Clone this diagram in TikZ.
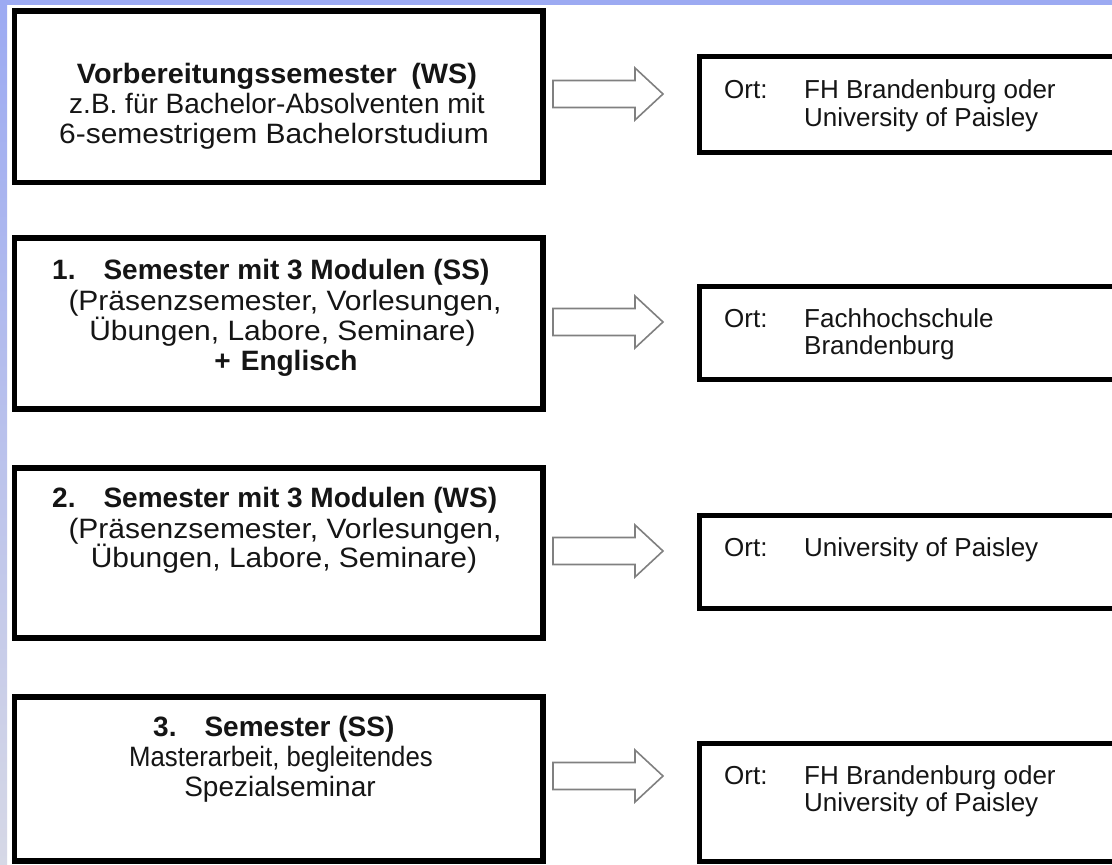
\documentclass[tikz,border=0pt]{standalone}
\usepackage{fontspec}
\usepackage{graphicx}
\setmainfont{Liberation Sans}
\definecolor{stripA}{HTML}{9CAAF2}
\definecolor{stripB}{HTML}{D6D8E6}
\definecolor{txt}{HTML}{151515}
\definecolor{arrgray}{HTML}{808080}
\begin{document}
\begin{tikzpicture}[x=1pt,y=-1pt,
  lbox/.style={draw=black, line width=5.5pt, fill=white, inner sep=0pt, minimum width=528.5pt},
  rbox/.style={draw=black, line width=5pt, fill=white, inner sep=0pt, minimum width=431pt},
  lt/.style={inner sep=0pt, anchor=base, text=txt, font=\fontsize{28}{33}\selectfont},
  ltw/.style={lt, anchor=base west},
  rt/.style={inner sep=0pt, anchor=base west, text=txt, font=\fontsize{26}{28}\selectfont},
  blockarrow/.style={draw=arrgray, line width=1.6pt, fill=white, line join=miter}
]
\useasboundingbox (0,0) rectangle (1112,865);
\clip (0,0) rectangle (1112,865);
\fill[white] (0,0) rectangle (1112,865);
\shade[top color=stripA, bottom color=stripB] (0,0) rectangle (7,865);
\fill[stripA] (0,0) rectangle (1112,5);

% left boxes
\node[lbox, minimum height=171.5pt] (b1) at (278.75,96.75) {};
\node[lbox, minimum height=171pt] (b2) at (278.75,323.5) {};
\node[lbox, minimum height=170pt] (b3) at (278.75,553) {};
\node[lbox, minimum height=164pt] (b4) at (278.75,779) {};

% right boxes
\node[rbox, minimum height=95.5pt] (r1) at (914.5,104.25) {};
\node[rbox, minimum height=93pt] (r2) at (914.5,332.5) {};
\node[rbox, minimum height=93pt] (r3) at (914.5,561.5) {};
\node[rbox, minimum height=118pt] (r4) at (914.5,802) {};

% block arrows
\foreach \n/\yy in {a1/94, a2/322, a3/551, a4/776}{
  \coordinate (\n) at (553,\yy);
  \draw[blockarrow] (\n) ++(0,-13.5) -- ++(82,0) -- ++(0,-12.5) -- ++(28,26)
     -- ++(-28,26) -- ++(0,-12.5) -- ++(-82,0) -- cycle;
}

% box 1 text
\node[lt] (t1a) at (277,83) {\scalebox{1.03}[1]{\textbf{Vorbereitungssemester\hspace{14pt}(WS)}}};
\node[lt] (t1b) at (277,113) {z.B. für Bachelor-Absolventen mit};
\node[lt] (t1c) at (274,143) {\scalebox{1.07}[1]{6-semestrigem Bachelorstudium}};

% box 2 text
\node[ltw] (t2a) at (52,279) {\textbf{1.\hspace{28pt}Semester mit 3 Modulen (SS)}};
\node[lt] (t2b) at (285,310) {\scalebox{1.07}[1]{(Präsenzsemester, Vorlesungen,}};
\node[lt] (t2c) at (282.5,340) {\scalebox{1.07}[1]{Übungen, Labore, Seminare)}};
\node[lt] (t2d) at (286,370) {\textbf{+\hspace{10pt}Englisch}};

% box 3 text
\node[ltw] (t3a) at (52,507) {\textbf{2.\hspace{28pt}Semester mit 3 Modulen (WS)}};
\node[lt] (t3b) at (285,538) {\scalebox{1.07}[1]{(Präsenzsemester, Vorlesungen,}};
\node[lt] (t3c) at (284,567) {\scalebox{1.07}[1]{Übungen, Labore, Seminare)}};

% box 4 text
\node[ltw] (t4a) at (153,736) {\textbf{3.\hspace{28pt}Semester (SS)}};
\node[lt] (t4b) at (281,766) {\scalebox{0.92}[1]{Masterarbeit, begleitendes}};
\node[lt] (t4c) at (280,796) {Spezialseminar};

% right texts
\node[rt] (o1) at (724,98) {Ort:};
\node[rt] (o1a) at (804,98) {FH Brandenburg oder};
\node[rt] (o1b) at (804,126) {University of Paisley};
\node[rt] (o2) at (724,327) {Ort:};
\node[rt] (o2a) at (804,327) {Fachhochschule};
\node[rt] (o2b) at (804,354) {Brandenburg};
\node[rt] (o3) at (724,556) {Ort:};
\node[rt] (o3a) at (804,556) {University of Paisley};
\node[rt] (o4) at (724,784) {Ort:};
\node[rt] (o4a) at (804,784) {FH Brandenburg oder};
\node[rt] (o4b) at (804,811) {University of Paisley};
\end{tikzpicture}
\end{document}
